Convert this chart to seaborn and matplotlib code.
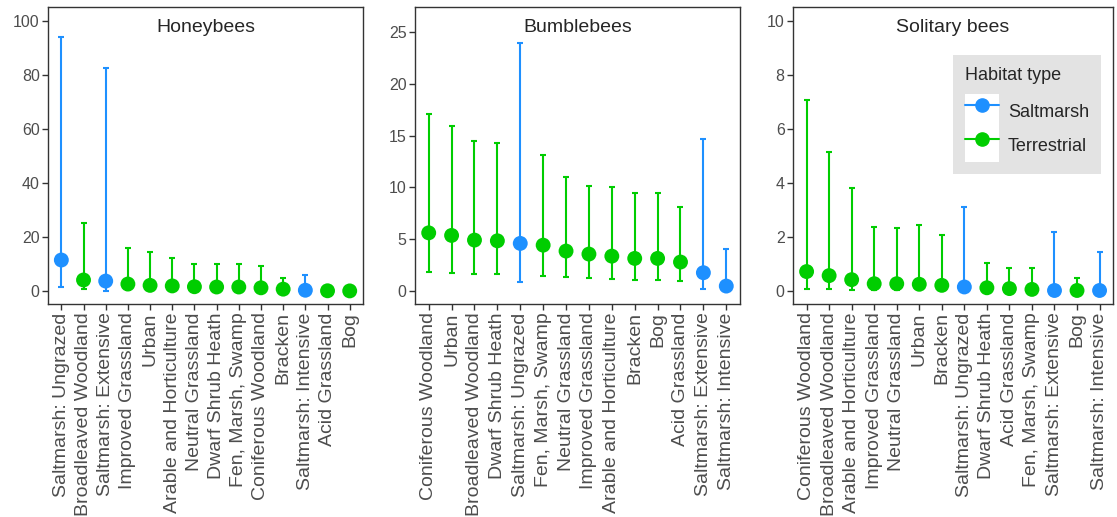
import numpy as np
import pandas as pd
import matplotlib.pyplot as plt
import seaborn as sns
from matplotlib.lines import Line2D
from matplotlib.patches import Patch
from matplotlib.legend_handler import HandlerTuple

# colores
azul = "#1E90FF"
verde = "#00CD00"

# Honeybees
honey_cats = ["Saltmarsh: Ungrazed", "Broadleaved Woodland", "Saltmarsh: Extensive",
              "Improved Grassland", "Urban", "Arable and Horticulture", "Neutral Grassland",
              "Dwarf Shrub Heath", "Fen, Marsh, Swamp", "Coniferous Woodland", "Bracken",
              "Saltmarsh: Intensive", "Acid Grassland", "Bog"]
honey_mean = [11.5, 4.1, 3.7, 2.6, 2.1, 1.9, 1.6, 1.5, 1.5, 1.2, 0.7, 0.3, 0.1, 0.05]
honey_lo = [1.4, 0.6, 0.1, 0.4, 0.3, 0.3, 0.2, 0.2, 0.2, 0.2, 0.1, 0.0, 0.0, 0.0]
honey_hi = [94.2, 25.3, 82.7, 15.8, 14.6, 12.1, 10.0, 10.0, 10.0, 9.4, 4.9, 5.8, 0.5, 0.3]
honey_tipo = ["Saltmarsh", "Terrestrial", "Saltmarsh", "Terrestrial", "Terrestrial",
              "Terrestrial", "Terrestrial", "Terrestrial", "Terrestrial", "Terrestrial",
              "Terrestrial", "Saltmarsh", "Terrestrial", "Terrestrial"]

# Bumblebees
bumble_cats = ["Coniferous Woodland", "Urban", "Broadleaved Woodland", "Dwarf Shrub Heath",
               "Saltmarsh: Ungrazed", "Fen, Marsh, Swamp", "Neutral Grassland",
               "Improved Grassland", "Arable and Horticulture", "Bracken", "Bog",
               "Acid Grassland", "Saltmarsh: Extensive", "Saltmarsh: Intensive"]
bumble_mean = [5.62, 5.37, 4.92, 4.85, 4.6, 4.43, 3.86, 3.57, 3.37, 3.15, 3.15, 2.8, 1.77, 0.48]
bumble_lo = [1.86, 1.77, 1.64, 1.64, 0.84, 1.48, 1.35, 1.22, 1.12, 1.03, 1.03, 0.96, 0.22, 0.0]
bumble_hi = [17.06, 15.94, 14.52, 14.27, 23.94, 13.11, 11.05, 10.15, 10.09, 9.51, 9.42, 8.13, 14.69, 4.02]
bumble_tipo = ["Terrestrial", "Terrestrial", "Terrestrial", "Terrestrial", "Saltmarsh",
               "Terrestrial", "Terrestrial", "Terrestrial", "Terrestrial", "Terrestrial",
               "Terrestrial", "Terrestrial", "Saltmarsh", "Saltmarsh"]

# Solitary bees
solit_cats = ["Coniferous Woodland", "Broadleaved Woodland", "Arable and Horticulture",
              "Improved Grassland", "Neutral Grassland", "Urban", "Bracken",
              "Saltmarsh: Ungrazed", "Dwarf Shrub Heath", "Acid Grassland",
              "Fen, Marsh, Swamp", "Saltmarsh: Extensive", "Bog", "Saltmarsh: Intensive"]
solit_mean = [0.72, 0.57, 0.42, 0.27, 0.27, 0.25, 0.21, 0.15, 0.12, 0.09, 0.06, 0.02, 0.02, 0.02]
solit_lo = [0.07, 0.07, 0.04, 0.02, 0.02, 0.02, 0.02, 0.0, 0.0, 0.0, 0.0, 0.0, 0.0, 0.0]
solit_hi = [7.07, 5.13, 3.80, 2.38, 2.34, 2.45, 2.06, 3.10, 1.04, 0.86, 0.84, 2.19, 0.47, 1.46]
solit_tipo = ["Terrestrial", "Terrestrial", "Terrestrial", "Terrestrial", "Terrestrial",
              "Terrestrial", "Terrestrial", "Saltmarsh", "Terrestrial", "Terrestrial",
              "Terrestrial", "Saltmarsh", "Terrestrial", "Saltmarsh"]

sns.set_style("white")
plt.rcParams['font.family'] = ['Liberation Sans', 'DejaVu Sans']

paleta = {"Saltmarsh": azul, "Terrestrial": verde}

fig = plt.figure(figsize=(11.17, 5.17), dpi=100)
posiciones = [[0.043, 0.412, 0.282, 0.574],
              [0.3715, 0.412, 0.291, 0.574],
              [0.71, 0.412, 0.2865, 0.574]]

paneles = [
    ("Honeybees", honey_cats, honey_mean, honey_lo, honey_hi, honey_tipo, (-4.8, 105.2), np.arange(0, 101, 20)),
    ("Bumblebees", bumble_cats, bumble_mean, bumble_lo, bumble_hi, bumble_tipo, (-1.25, 27.4), np.arange(0, 26, 5)),
    ("Solitary bees", solit_cats, solit_mean, solit_lo, solit_hi, solit_tipo, (-0.48, 10.5), np.arange(0, 11, 2)),
]

for i, (titulo, cats, media, lo, hi, tipo, ylim, yticks) in enumerate(paneles):
    ax = fig.add_axes(posiciones[i])
    df = pd.DataFrame({"habitat": cats, "media": media, "lo": lo, "hi": hi, "tipo": tipo})
    df["x"] = np.arange(len(df))

    # barras de error
    for t, col in paleta.items():
        sub = df[df["tipo"] == t]
        ax.errorbar(sub["x"], sub["media"],
                    yerr=[sub["media"] - sub["lo"], sub["hi"] - sub["media"]],
                    fmt="none", ecolor=col, elinewidth=1.5, capsize=2, capthick=1.5, zorder=2)

    # puntos
    sns.scatterplot(data=df, x="x", y="media", hue="tipo", palette=paleta, s=115,
                    edgecolor="none", legend=False, ax=ax, zorder=3)

    ax.set_xlim(-0.6, len(df) - 0.4)
    ax.set_ylim(*ylim)
    ax.set_yticks(yticks)
    ax.set_xticks(df["x"])
    ax.set_xticklabels(df["habitat"], rotation=90)
    ax.set_xlabel("")
    ax.set_ylabel("")
    ax.tick_params(axis="both", length=4, width=1, color="#333333",
                   labelcolor="#4D4D4D", bottom=True, left=True, pad=2)
    ax.tick_params(axis="y", labelsize=11.5)
    ax.tick_params(axis="x", labelsize=14)
    for s in ax.spines.values():
        s.set_color("#333333")
        s.set_linewidth(1)
    ax.text(0.5, 0.933, titulo, transform=ax.transAxes, ha="center", va="center", fontsize=14)

    if i == 2:
        handles = [(Patch(facecolor="white", edgecolor="none"),
                    Line2D([0], [0], color=paleta[t], marker="o", markersize=9.5, linewidth=1.5))
                   for t in ["Saltmarsh", "Terrestrial"]]
        leg = ax.legend(handles, ["Saltmarsh", "Terrestrial"], title="Habitat type",
                        handler_map={tuple: HandlerTuple(ndivide=1, pad=0)},
                        loc="upper right", bbox_to_anchor=(0.9625, 0.838), borderaxespad=0,
                        fontsize=13, title_fontsize=13, frameon=True, facecolor="#E3E3E3",
                        edgecolor="none", fancybox=False, framealpha=1,
                        handlelength=1.88, handleheight=2.52, handletextpad=0.5,
                        borderpad=0.67, labelspacing=0)
        leg._legend_box.align = "left"
        leg._legend_box.sep = 7

fig.savefig("out.png", dpi=100)
